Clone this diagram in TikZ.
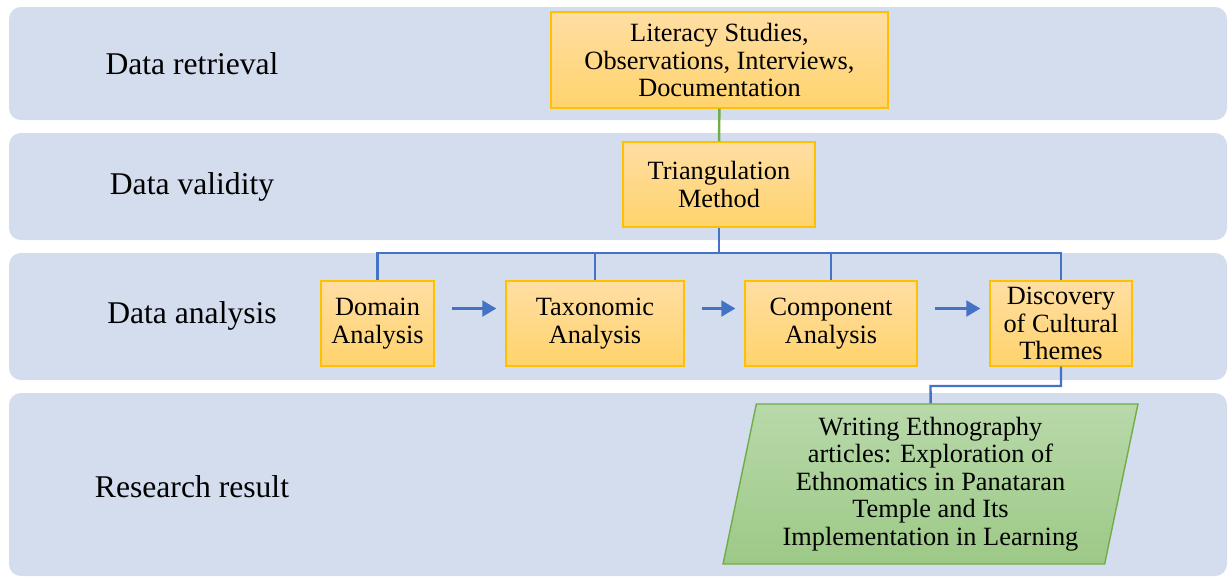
\documentclass[tikz,border=0pt]{standalone}
\usepackage{fontspec}
\setmainfont{Liberation Serif}
\usetikzlibrary{shapes.geometric,arrows.meta}
\definecolor{bandblue}{HTML}{D3DDEE}
\definecolor{boxtop}{HTML}{FFDEA3}
\definecolor{boxbot}{HTML}{FFD36C}
\definecolor{boxline}{HTML}{FFC000}
\definecolor{linkblue}{HTML}{4472C4}
\definecolor{linkgreen}{HTML}{70AD47}
\definecolor{restop}{HTML}{B8D9AA}
\definecolor{resbot}{HTML}{9DC987}

\begin{document}
\begin{tikzpicture}[x=0.02cm, y=-0.02cm,
            every node/.style={
            inner sep=0pt, align=center, font=\fontsize{15}{15.6}\selectfont}
        ]
        \tikzstyle {band} = [fill=bandblue, rounded corners=6.8pt]
        \tikzstyle {row_label} = [font=\fontsize{18}{21}\selectfont]
        \tikzstyle {yellow_box} = [rectangle, draw=boxline, thick, top color=boxtop, bottom color=boxbot, minimum height=1.7cm]
        \tikzstyle {green_para} = [trapezium, trapezium left angle=76, trapezium right angle=104, trapezium stretches body, draw=linkgreen, thick, top color=restop, bottom color=resbot]
        \tikzstyle {blue_link} = [draw=linkblue, line width=1.4pt]
        \tikzstyle {green_link} = [draw=linkgreen, line width=1.4pt]
        \tikzstyle {blue_arrow} = [draw=linkblue, line width=1.7pt, -{Triangle[length=8pt, width=9pt]}, shorten <=0.34cm, shorten >=0.18cm]

        \useasboundingbox (0,0) rectangle (1231,578);

        % bands
        \fill [band] (9,7) rectangle (1227,120);
        \fill [band] (9,133) rectangle (1227,240);
        \fill [band] (9,253) rectangle (1227,380);
        \fill [band] (9,393) rectangle (1227,576);

        \node [row_label] (retrieval) at (192,64) {Data retrieval};
        \node [row_label] (validity) at (192,187) {Data validity};
        \node [row_label] (analysis) at (192,316) {Data analysis};
        \node [row_label] (research) at (192,487) {Research result};

        \node [yellow_box, minimum width=6.74cm, minimum height=1.92cm] (lit) at (719.5,60) {Literacy Studies,\\Observations, Interviews,\\Documentation};
        \node [yellow_box, minimum width=3.84cm] (tri) at (719,184.5) {Triangulation\\Method};
        \node [yellow_box, minimum width=2.26cm] (domain) at (377.5,323.5) {Domain\\Analysis};
        \node [yellow_box, minimum width=3.56cm] (taxo) at (595,323.5) {Taxonomic\\Analysis};
        \node [yellow_box, minimum width=3.44cm] (comp) at (831,323.5) {Component\\Analysis};
        \node [yellow_box, minimum width=2.84cm] (disc) at (1061,323.5) {Discovery\\of Cultural\\Themes};
        \node [green_para, minimum width=8.3cm, minimum height=3.2cm] (result) at (930.5,484) {Writing Ethnography\\articles: Exploration of\\Ethnomatics in Panataran\\Temple and Its\\Implementation in Learning};

        \coordinate (branch) at (719,253);
        \coordinate (bend) at (930.5,386);

        \draw [green_link] (lit) -- (tri);
        \draw [blue_link] (tri) -- (branch);
        \draw [blue_link] (domain) |- (branch);
        \draw [blue_link] (taxo) |- (branch);
        \draw [blue_link] (comp) |- (branch);
        \draw [blue_link] (disc) |- (branch);
        \draw [blue_link] (disc) |- (bend) -- (result.north);

        \draw [blue_arrow] ([yshift=0.3cm]domain.east) -- ([yshift=0.3cm]taxo.west);
        \draw [blue_arrow] ([yshift=0.3cm]taxo.east) -- ([yshift=0.3cm]comp.west);
        \draw [blue_arrow] ([yshift=0.3cm]comp.east) -- ([yshift=0.3cm]disc.west);

        \end{tikzpicture}
\end{document}
